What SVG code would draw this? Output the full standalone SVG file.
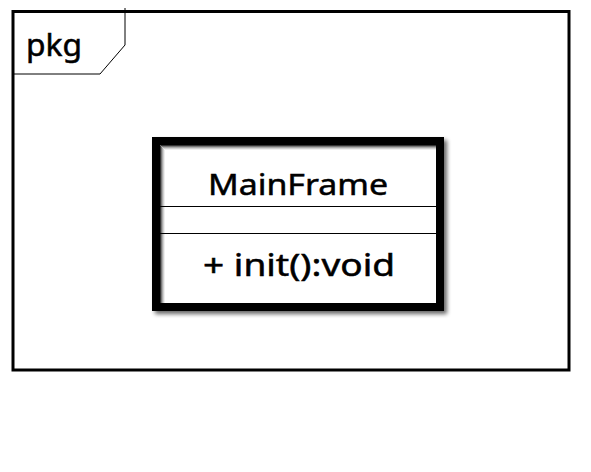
<svg xmlns="http://www.w3.org/2000/svg" width="591" height="472" viewBox="0 0 591 472">
<defs>
<style>
.t{font-family:"Noto Sans","DejaVu Sans",sans-serif;fill:#000;stroke:#000;stroke-width:0.5}
.thin{fill:none;stroke:#000;stroke-width:1}
</style>
<filter id="sh" x="-10%" y="-10%" width="120%" height="120%">
<feGaussianBlur in="SourceAlpha" stdDeviation="2"/>
<feOffset dx="3" dy="3" result="b"/>
<feComponentTransfer><feFuncA type="linear" slope="0.6"/></feComponentTransfer>
<feMerge><feMergeNode/><feMergeNode in="SourceGraphic"/></feMerge>
</filter>
</defs>
<rect width="591" height="472" fill="#fff"/>
<g id="package">
<rect x="13" y="11.5" width="556" height="358.5" fill="none" stroke="#000" stroke-width="3"/>
<polyline class="thin" points="125,8 125,45 100,74 13,74"/>
<text class="t" x="26" y="56" font-size="30" textLength="56" lengthAdjust="spacingAndGlyphs">pkg</text>
</g>
<g id="MainFrame">
<rect x="156" y="141" width="284" height="166" fill="#fff" stroke="#000" stroke-width="8" filter="url(#sh)"/>
<g fill="none" stroke-width="1">
<polyline points="160.5,303 160.5,145.5 436,145.5" stroke="#333"/>
<polyline points="161.5,303 161.5,146.5 436,146.5" stroke="#777"/>
<polyline points="162.5,303 162.5,147.5 436,147.5" stroke="#aaa"/>
<polyline points="163.5,303 163.5,148.5 436,148.5" stroke="#d0d0d0"/>
<polyline points="164.5,303 164.5,149.5 436,149.5" stroke="#eee"/>
</g>
<line class="thin" x1="160" y1="206.5" x2="436" y2="206.5"/>
<line class="thin" x1="160" y1="233.5" x2="436" y2="233.5"/>
<text class="t" x="298" y="195" font-size="29" text-anchor="middle" textLength="180" lengthAdjust="spacingAndGlyphs">MainFrame</text>
<text class="t" x="299" y="276" font-size="30" text-anchor="middle" textLength="192" lengthAdjust="spacingAndGlyphs">+ init():void</text>
</g>
<g id="connectors"/>
</svg>
